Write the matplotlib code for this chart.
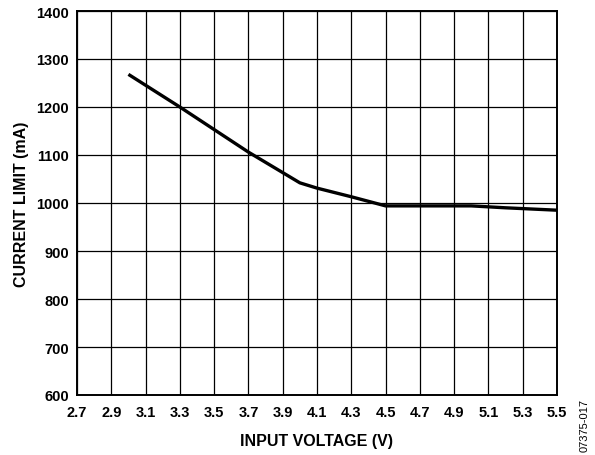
import matplotlib
matplotlib.use("Agg")
import matplotlib.pyplot as plt
import numpy as np

plt.rcParams['font.family'] = ['Liberation Sans', 'DejaVu Sans']

# curve
voltage = [3.0, 3.3, 3.5, 3.7, 4.0, 4.1, 4.3, 4.5, 4.8, 5.0, 5.2, 5.5]
current = [1268, 1200, 1153, 1106, 1042, 1031, 1013, 994, 994, 994, 990, 985]

x_ticks = [round(2.7 + 0.2 * i, 1) for i in range(15)]
y_ticks = list(range(600, 1401, 100))

fig = plt.figure(figsize=(5.95, 4.56), dpi=100)
ax = fig.add_axes([77 / 595, 1 - 396 / 456, 480 / 595, 384 / 456])

ax.plot(voltage, current, color="black", linewidth=2.4, solid_capstyle="butt")

ax.set_xlim(2.7, 5.5)
ax.set_ylim(600, 1400)
ax.set_xticks(x_ticks)
ax.set_xticklabels([f"{v:.1f}" for v in x_ticks], fontweight="bold", fontsize=10.5)
ax.set_yticks(y_ticks)
ax.set_yticklabels([str(v) for v in y_ticks], fontweight="bold", fontsize=10.5)
ax.tick_params(axis="x", length=0, pad=7)
ax.tick_params(axis="y", length=0, pad=6)
ax.grid(True, color="black", linewidth=0.9)
for s in ax.spines.values():
    s.set_linewidth(1.4)

ax.set_xlabel("INPUT VOLTAGE (V)", fontweight="bold", fontsize=11.5, labelpad=10)
ax.set_ylabel("CURRENT LIMIT (mA)", fontweight="bold", fontsize=11.5, labelpad=5)

fig.text(585 / 595, 1 - 426 / 456, "07375-017", rotation=90, fontsize=8,
         ha="center", va="center")

fig.savefig("out.png", dpi=100)
